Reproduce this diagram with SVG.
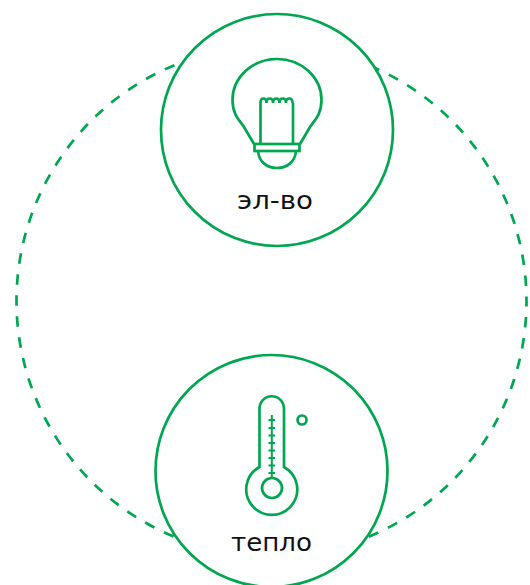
<svg xmlns="http://www.w3.org/2000/svg" width="530" height="585" viewBox="0 0 530 585">
<style>
.g{fill:none;stroke:#00a650;stroke-width:2.7}
.c{fill:#fff;stroke:#00a650;stroke-width:2.7}
.d{fill:none;stroke:#00a650;stroke-width:2.7;stroke-dasharray:10.5 10.58;stroke-dashoffset:5}
.t{font-family:"DejaVu Sans","Liberation Sans",sans-serif;font-size:24px;fill:#111;text-anchor:middle}
</style>
<rect width="530" height="585" fill="#fff"/>
<g id="connectors"><circle class="d" cx="271.500" cy="301" r="255"/></g>
<g id="node-electricity">
<circle class="c" cx="277" cy="130" r="116"/>
<path class="g" d="M254 144L244 127C240 121 232.500 115 232.500 100A44.500 41 0 0 1 321.500 100C321.500 115 314 121 310 127L300 144"/>
<rect class="g" x="254.500" y="144" width="45" height="7"/>
<path class="g" d="M258 151C259 162 267 168 277 168C287 168 295 162 296 151"/>
<path class="g" d="M260.500 144V103M293 144V103M260.500 103c0-6 6-6 6 0c0-6 6.500-6 6.500 0c0-6 6.500-6 6.500 0c0-6 6.500-6 6.500 0c0-6 6.500-6 6.500 0"/>
<text class="t" x="275" y="209" textLength="76" lengthAdjust="spacingAndGlyphs">эл-во</text>
</g>
<g id="node-heat">
<circle class="c" cx="271.500" cy="471" r="116"/>
<path class="g" d="M259.500 467V408.500A12.250 12.250 0 0 1 284 408.500V467A25.500 25.500 0 1 1 259.500 467Z"/>
<circle class="g" cx="272" cy="488" r="10"/>
<circle class="g" cx="302" cy="420" r="4.500"/>
<path class="g" d="M271.800 415V478M268.500 420H275M268.500 428H275M268.500 435.500H275M268.500 443H275M268.500 450.500H275M268.500 458H275M268.500 465.500H275M268.500 473H275" style="stroke-width:2"/>
<text class="t" x="271.500" y="551" textLength="81" lengthAdjust="spacingAndGlyphs">тепло</text>
</g>
</svg>
